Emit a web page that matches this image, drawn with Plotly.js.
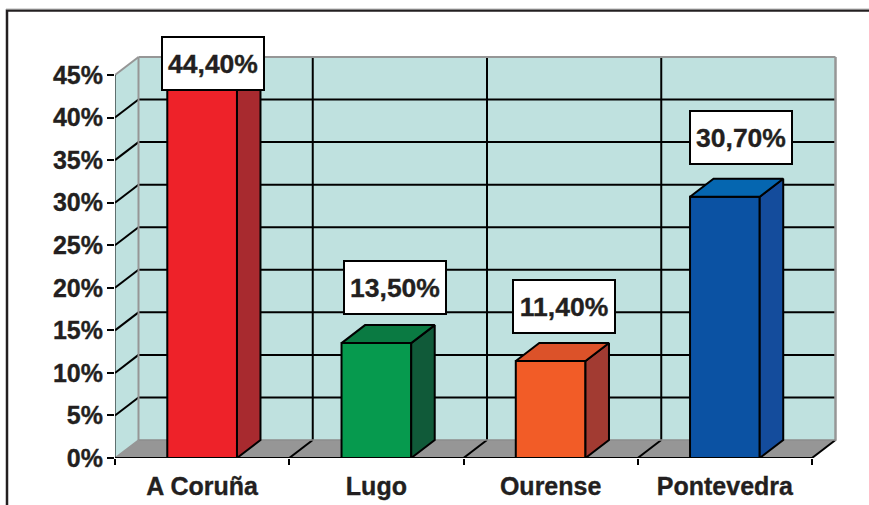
<!DOCTYPE html>
<html>
<head>
<meta charset="utf-8">
<script src="https://cdn.plot.ly/plotly-3.0.1.min.js"></script>
<style>
html,body{margin:0;padding:0;background:#fff;overflow:hidden}
.xtick text,.ytick text,.annotation-text{stroke:#231f20;stroke-width:.35px}
</style>
</head>
<body>
<div id="chart" style="width:869px;height:505px"></div>
<script>
// Data
const categories = ["A Coruña", "Lugo", "Ourense", "Pontevedra"];
const values = [44.4, 13.5, 11.4, 30.7];
const yTicks = [0, 5, 10, 15, 20, 25, 30, 35, 40, 45];

// Styles
const frontColors = ["#ee2229", "#069a4e", "#f25c27", "#0b52a3"];
const sideColors = ["#a82a2f", "#105a39", "#a23b32", "#144c9c"];
const topColors = ["#c8262c", "#0a7a42", "#dc5229", "#0566b0"];
const labelShiftX = [11, 19, 14, 17];
const labelShiftY = [-17, -56, -54, -59];

// Geometry (pixels per unit and depth of the 3D box)
const W = 869, H = 505, mL = 115, mR = 24, mT = 50, mB = 47;
const pxX = 174.25, pxY = 8.511;
const depthX = 23.5 / pxX, depthY = 18 / pxY;
const xMax = (W - mL - mR) / pxX, yMax = (H - mT - mB) / pxY;
const ink = "#000000", text = "#231f20", edge = "#969696";
const wall = "#bfe1df", floorColor = "#969696";
const nCat = categories.length, topVal = yTicks[yTicks.length - 1];
const backRight = nCat + depthX;

const paperX = px => (px - mL) / (W - mL - mR);
const paperY = px => 1 - (px - mT) / (H - mT - mB);

const shapes = [];
const poly = (pts, fill) => shapes.push({
  type: "path", layer: "below", xref: "x", yref: "y",
  path: "M" + pts.map(p => p.join(",")).join("L") + "Z",
  fillcolor: fill, line: {width: 0}
});
const seg = (x0, y0, x1, y1, color, width) => shapes.push({
  type: "line", layer: "below", xref: "x", yref: "y", x0, y0, x1, y1,
  line: {color, width}
});

// walls and floor
poly([[depthX, depthY], [backRight, depthY], [backRight, topVal + depthY], [depthX, topVal + depthY]], wall);
poly([[0, 0], [depthX, depthY], [depthX, topVal + depthY], [0, topVal]], wall);
poly([[0, 0], [nCat, 0], [backRight, depthY], [depthX, depthY]], floorColor);

// grid on the walls
yTicks.slice(1, -1).forEach(v => {
  seg(0, v, depthX, v + depthY, ink, 2);
  seg(depthX, v + depthY, backRight, v + depthY, ink, 2);
});
for (let i = 1; i < nCat; i++) {
  seg(i + depthX, depthY, i + depthX, topVal + depthY, ink, 2);
  seg(i, 0, i + depthX, depthY, ink, 2);
}
seg(nCat, 0, backRight, depthY, ink, 2);

// gray wall edges
seg(0, topVal, depthX, topVal + depthY, edge, 2);
seg(depthX, topVal + depthY, backRight, topVal + depthY, edge, 2);
seg(depthX, depthY, depthX, topVal + depthY, edge, 2);
seg(backRight, depthY - 0.1, backRight, topVal + depthY, edge, 2.5);
seg(depthX, depthY, backRight, depthY, "#8c8c8c", 1.5);
seg(0, 0, depthX, depthY, edge, 1.5);

// chart frame (runs off the page on the right and bottom)
shapes.push({type: "path", layer: "below", xref: "paper", yref: "paper",
  path: `M${paperX(7)},${paperY(H + 5)}L${paperX(7)},${paperY(10.5)}L${paperX(W + 5)},${paperY(10.5)}`,
  line: {color: text, width: 2.5}});
shapes.push({type: "line", layer: "below", xref: "paper", yref: "paper",
  x0: paperX(6), x1: paperX(W + 5), y0: paperY(9), y1: paperY(9),
  line: {color: "#b5b5b5", width: 1}});

const centers = categories.map((_, i) => i + 0.5);
const barWidth = 0.4;

const traces = [{
  type: "bar", x: centers, y: values, width: barWidth,
  marker: {color: frontColors, line: {color: ink, width: 2}},
  hoverinfo: "skip", showlegend: false
}];

values.forEach((v, i) => {
  const l = centers[i] - barWidth / 2, r = centers[i] + barWidth / 2;
  traces.push({
    type: "scatter", mode: "lines", fill: "toself", fillcolor: sideColors[i],
    x: [r, r + depthX, r + depthX, r, r],
    y: [0, depthY, v + depthY, v, 0],
    line: {color: ink, width: 2, shape: "linear"}, hoverinfo: "skip", showlegend: false
  });
  traces.push({
    type: "scatter", mode: "lines", fill: "toself", fillcolor: topColors[i],
    x: [l, r, r + depthX, l + depthX, l],
    y: [v, v, v + depthY, v + depthY, v],
    line: {color: ink, width: 2}, hoverinfo: "skip", showlegend: false
  });
});

// front axis lines
traces.push({type: "scatter", mode: "lines", x: [0, nCat], y: [0, 0], cliponaxis: false,
  line: {color: ink, width: 2}, hoverinfo: "skip", showlegend: false});
traces.push({type: "scatter", mode: "lines", x: [0, 0], y: [0, topVal], cliponaxis: false,
  line: {color: ink, width: 1}, hoverinfo: "skip", showlegend: false});

const fmt = v => v.toFixed(2).replace(".", ",") + "%";
const annotations = values.map((v, i) => ({
  x: centers[i], y: v, xref: "x", yref: "y", xanchor: "center", yanchor: "middle",
  xshift: labelShiftX[i] - 0.5, yshift: -labelShiftY[i],
  text: "<b>" + fmt(v) + "</b>", showarrow: false,
  font: {family: "Liberation Sans, Arial, sans-serif", size: 26.5, color: text},
  bgcolor: "#ffffff", bordercolor: ink, borderwidth: 2, borderpad: 0,
  width: 100, height: 51, align: "center", valign: "middle"
}));

const layout = {
  width: W, height: H,
  margin: {l: mL, r: mR, t: mT, b: mB, pad: 0},
  paper_bgcolor: "#ffffff", plot_bgcolor: "rgba(0,0,0,0)",
  showlegend: false, bargap: 0,
  shapes, annotations,
  xaxis: {
    range: [0, xMax], tickmode: "array", tickvals: centers, ticktext: categories.map(c => "<b>" + c + "</b>"),
    ticks: "", showgrid: false, zeroline: false, showline: false, ticklabelstandoff: 11,
    tickfont: {family: "Liberation Sans, Arial, sans-serif", size: 25, color: text},
    minor: {tick0: 0, dtick: 1, ticks: "outside", ticklen: 6, tickwidth: 2, tickcolor: ink, showgrid: false}
  },
  yaxis: {
    range: [0, yMax], tickmode: "array", tickvals: yTicks,
    ticktext: yTicks.map(v => "<b>" + v + "%</b>"),
    ticks: "outside", ticklen: 7, tickwidth: 2, tickcolor: ink, ticklabelstandoff: -1,
    showgrid: false, zeroline: false, showline: false,
    tickfont: {family: "Liberation Sans, Arial, sans-serif", size: 25, color: text}
  }
};

Plotly.newPlot("chart", traces, layout, {displayModeBar: false, staticPlot: true});
</script>
</body>
</html>
